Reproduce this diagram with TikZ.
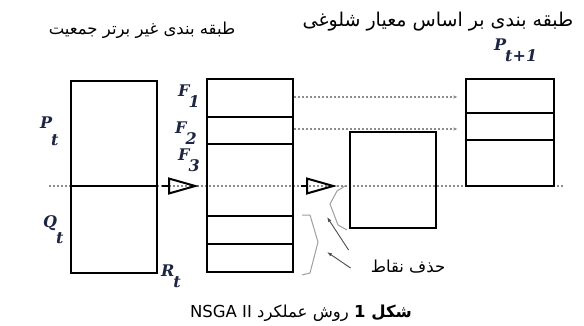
\documentclass[tikz,border=0pt]{standalone}
\usepackage{fontspec}
\usetikzlibrary{arrows.meta}
\TeXXeTstate=1
\newfontfamily\farsi[Script=Arabic]{DejaVu Sans}
\newfontfamily\symfont{DejaVu Serif}
\definecolor{symcol}{HTML}{1C2541}
\definecolor{guidegray}{gray}{0.55}
\definecolor{trimgray}{gray}{0.62}
% label with a dropped subscript
\newcommand{\popsym}[3][11pt]{#2\kern-1pt\raisebox{-#1}{#3}}

\begin{document}
\begin{tikzpicture}[x=1pt,y=-1pt,
  popbox/.style={draw, line width=2.6pt, inner sep=0pt},
  divide/.style={line width=2.6pt},
  guide/.style={draw=guidegray, line width=1.2pt, dash pattern=on 2pt off 2pt},
  keep/.style={guide, -{Latex[length=4pt,width=3.5pt]}},
  passon/.style={line width=2pt, -{Triangle[open,length=31pt,width=17pt]}},
  trim/.style={draw=trimgray, line width=1pt},
  cut/.style={draw=gray!60!black, line width=0.9pt, -{Latex[length=5pt,width=3.5pt]}},
  sym/.style={text=symcol, font=\symfont\bfseries\itshape\fontsize{16}{18}\selectfont, inner sep=0pt, anchor=base west},
  fa/.style={font=\farsi\fontsize{16.5}{19}\selectfont, inner sep=1pt}
]
\useasboundingbox (0,0) rectangle (584,325);

% dotted guide line
\coordinate (gl) at (49,186);
\coordinate (gr) at (563,186);
\draw[guide] (gl) -- (gr);

% headings
\node[fa] (sorthead) at (142,30) {\beginR طبقه بندی غیر برتر جمعیت\endR};
\node[fa, font=\farsi\fontsize{19}{21}\selectfont] (crowdhead) at (438,22) {\beginR طبقه بندی بر اساس معیار شلوغی\endR};

% populations
\node[popbox, minimum width=86, minimum height=192] (rbox) at (114,177) {};
\draw[divide] (rbox.west |- 0,186) -- (rbox.east |- 0,186);
\node[popbox, minimum width=86, minimum height=193] (fbox) at (250,175.5) {};
\foreach \yy in {117,144,216,244}
  \draw[divide] (fbox.west |- 0,\yy) -- (fbox.east |- 0,\yy);
\node[popbox, minimum width=86, minimum height=96] (cbox) at (393,180) {};
\node[popbox, minimum width=88, minimum height=107] (pbox) at (510,132.5) {};
\foreach \yy in {113,140}
  \draw[divide] (pbox.west |- 0,\yy) -- (pbox.east |- 0,\yy);

% labels
\node[sym] (pt) at (40,128) {\popsym[17pt]{P}{t}};
\node[sym] (qt) at (43,227) {\popsym[16pt]{Q}{t}};
\node[sym] (rt) at (161,276) {\popsym{R}{t}};
\node[sym] (f1) at (178,96) {\popsym{F}{1}};
\node[sym] (f2) at (175,133) {\popsym{F}{2}};
\node[sym] (f3) at (178,160) {\popsym{F}{3}};
\node[sym] (pnext) at (494,50) {\popsym{P}{t+1}};

% flow arrows
\coordinate (a1s) at (162,186);
\coordinate (a1e) at (199,186);
\draw[passon] (a1s) -- (a1e);
\coordinate (a2s) at (301,186);
\coordinate (a2e) at (337,186);
\draw[passon] (a2s) -- (a2e);
\draw[keep] (fbox.east |- 0,97) -- ([xshift=-7]pbox.west |- 0,97);
\draw[keep] (fbox.east |- 0,129) -- ([xshift=-7]pbox.west |- 0,129);

% removed points
\draw[trim] (345,186) -- (337,191) -- (330,204) -- (338,225) -- (347,230);
\draw[trim] (302,215) -- (310,215) -- (318,242) -- (310,273) -- (302,275);
\node[fa] (drop) at (408,267) {\beginR حذف نقاط\endR};
\coordinate (hitA) at (327,217);
\coordinate (hitB) at (327,252);
\draw[cut] ([shift={(-21,-17)}]drop.west) -- (hitA);
\draw[cut] ([shift={(-19,1)}]drop.west) -- (hitB);

% caption
\node[fa] (cap) at (301,313) {\beginR\textbf{شکل 1} روش عملکرد \beginL NSGA II\endL\endR};
\end{tikzpicture}
\end{document}
